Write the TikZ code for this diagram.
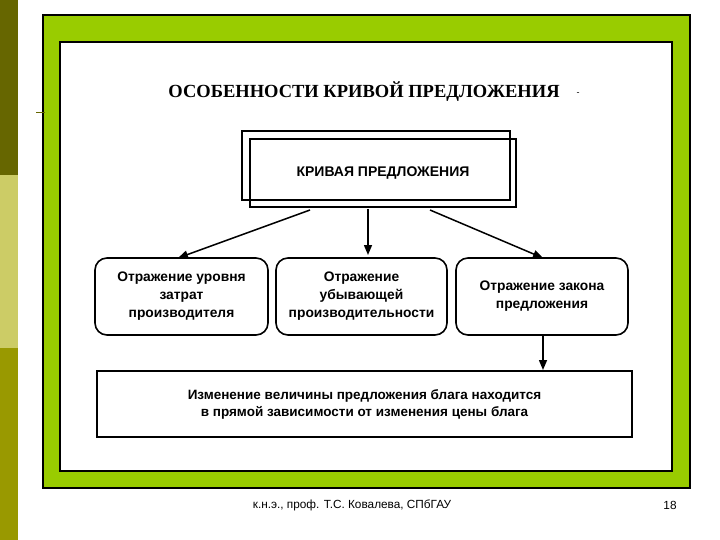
\documentclass[tikz,border=0pt]{standalone}
\usepackage{fontspec}
\setmainfont{Liberation Sans}
\newfontfamily\serifb{Liberation Serif}
\usetikzlibrary{arrows.meta}
\begin{document}
\begin{tikzpicture}[x=1pt,y=-1pt,
  bx/.style={draw,line width=1.6pt,rounded corners=12pt,align=center,font=\bfseries\fontsize{13.8}{18}\selectfont},
  rbox/.style={draw,line width=1.6pt,align=center,font=\bfseries\fontsize{14}{18}\selectfont},
  arr/.style={line width=1.5pt,-{Triangle[length=10pt,width=8pt]}}]
\useasboundingbox (0,0) rectangle (720,540);
\fill[white] (0,0) rectangle (720,540);
\fill[fill={rgb,255:red,102;green,102;blue,0}] (0,0) rectangle (18,175);
\fill[fill={rgb,255:red,204;green,204;blue,102}] (0,175) rectangle (18,348);
\fill[fill={rgb,255:red,153;green,153;blue,0}] (0,348) rectangle (18,540);
\draw[line width=1.5pt,fill={rgb,255:red,153;green,204;blue,0}] (43,15) rectangle (690,488);
\draw[line width=1.5pt,fill=white] (60,42) rectangle (672,471);
\draw[line width=1pt,color={rgb,255:red,102;green,102;blue,0}] (36,113) -- (45,113);
\node[font=\serifb\bfseries\fontsize{18.5}{20}\selectfont] (title) at (364,92) {ОСОБЕННОСТИ КРИВОЙ ПРЕДЛОЖЕНИЯ};
\node[font=\small] (dot) at (578,94) {-};
\draw[line width=1.6pt] (242,131) rectangle (510,200);
\node[rbox,minimum width=266pt,minimum height=68pt] (top) at (383,173) {КРИВАЯ ПРЕДЛОЖЕНИЯ};
\node[bx,minimum width=173pt,minimum height=77pt] (a) at (181.5,296.5) {Отражение уровня\\затрат\\производителя};
\node[bx,minimum width=171pt,minimum height=77pt] (b) at (361.5,296.5) {Отражение\\убывающей\\производительности};
\node[bx,minimum width=172pt,minimum height=77pt] (c) at (542,296.5) {Отражение закона\\предложения};
\node[rbox,minimum width=535pt,minimum height=66pt,font=\bfseries\fontsize{13.5}{17}\selectfont] (d) at (364.5,404) {Изменение величины предложения блага находится\\в прямой зависимости от изменения цены блага};
\coordinate (t1) at (310,210);
\coordinate (t2) at (368,209);
\coordinate (t3) at (430,210);
\coordinate (h2) at (368,255);
\coordinate (c2) at (543,336);
\draw[arr] (t1) -- (178,258);
\draw[arr] (t2) -- (h2);
\draw[arr] (t3) -- (543,258);
\draw[arr] (c2) -- (543,370);
\node[font=\fontsize{11.8}{14}\selectfont] (foot) at (352,505) {к.н.э., проф. Т.С. Ковалева, СПбГАУ};
\node[font=\fontsize{11.8}{14}\selectfont] (pg) at (670,505) {18};
\end{tikzpicture}
\end{document}
